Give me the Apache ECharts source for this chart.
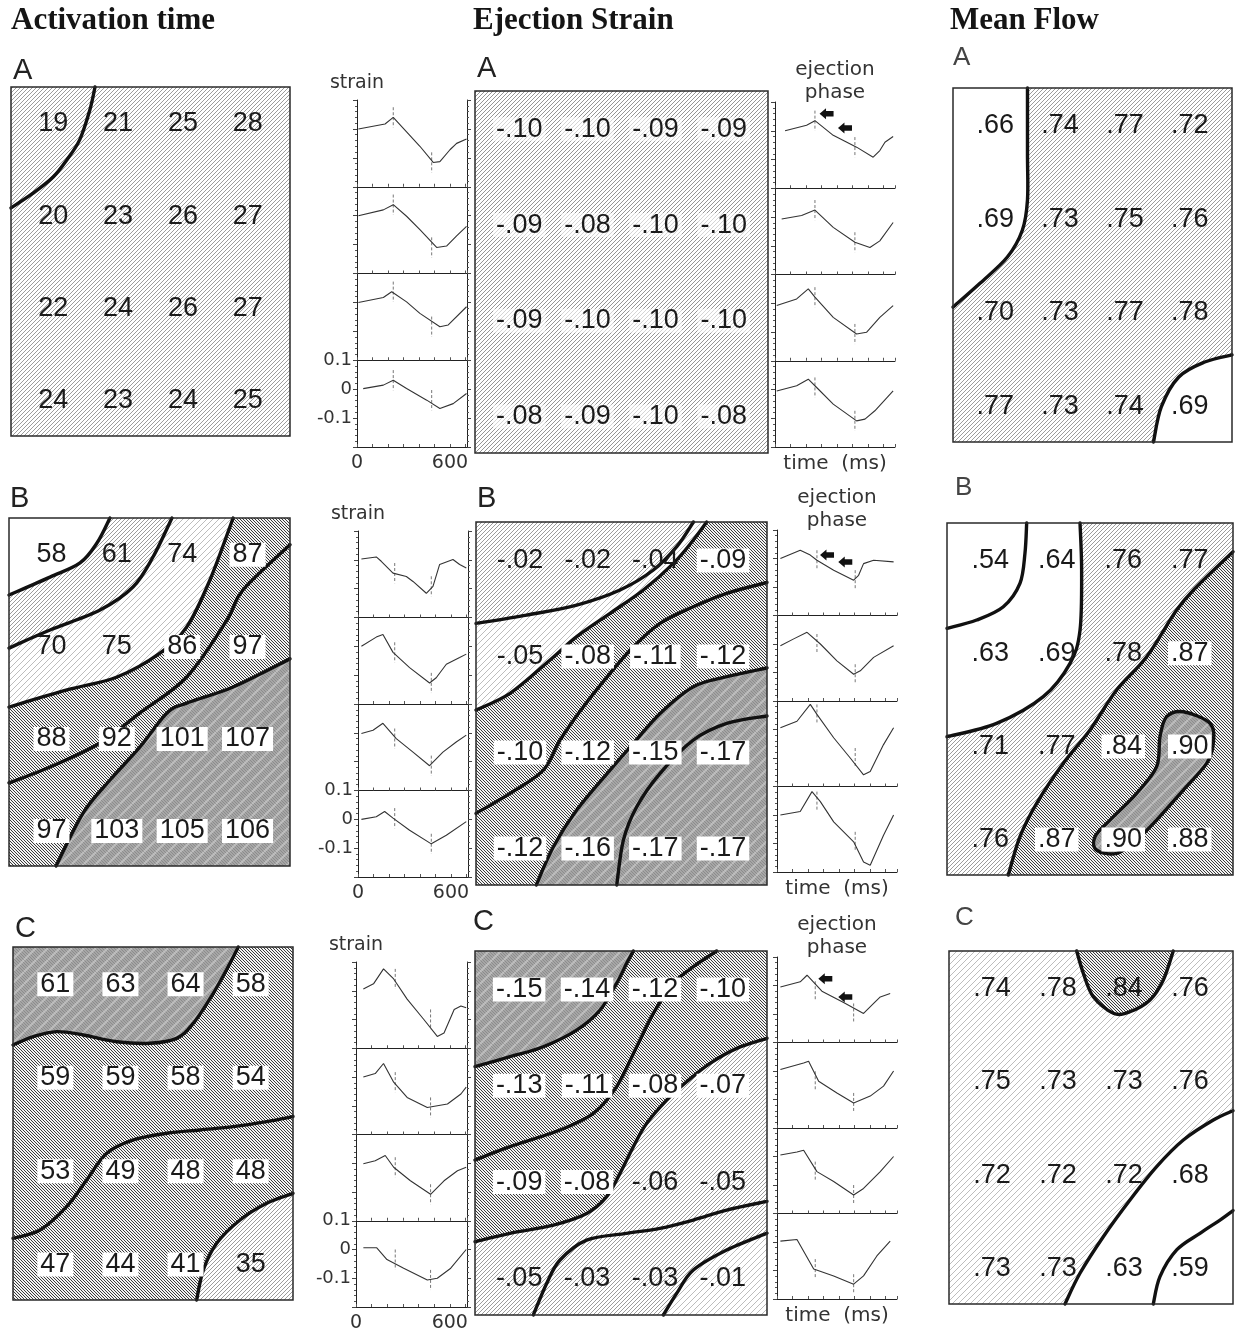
<!DOCTYPE html>
<html><head><meta charset="utf-8">
<script src="https://cdn.jsdelivr.net/npm/echarts@6/dist/echarts.min.js"></script>
<style>html,body{margin:0;padding:0;background:#fff}#c{width:1237px;height:1335px}</style>
</head><body><div id="c"></div>
<script>
// ---------------- DATA ----------------
const titles = ['Activation time', 'Ejection Strain', 'Mean Flow'];
const rowLetters = ['A', 'B', 'C'];

// 4x4 site values (row-major, top row first)
const actA = [[19,21,25,28],[20,23,26,27],[22,24,26,27],[24,23,24,25]];
const actB = [[58,61,74,87],[70,75,86,97],[88,92,101,107],[97,103,105,106]];
const actC = [[61,63,64,58],[59,59,58,54],[53,49,48,48],[47,44,41,35]];
const ejA = [[-0.10,-0.10,-0.09,-0.09],[-0.09,-0.08,-0.10,-0.10],[-0.09,-0.10,-0.10,-0.10],[-0.08,-0.09,-0.10,-0.08]];
const ejB = [[-0.02,-0.02,-0.04,-0.09],[-0.05,-0.08,-0.11,-0.12],[-0.10,-0.12,-0.15,-0.17],[-0.12,-0.16,-0.17,-0.17]];
const ejC = [[-0.15,-0.14,-0.12,-0.10],[-0.13,-0.11,-0.08,-0.07],[-0.09,-0.08,-0.06,-0.05],[-0.05,-0.03,-0.03,-0.01]];
const mfA = [[0.66,0.74,0.77,0.72],[0.69,0.73,0.75,0.76],[0.70,0.73,0.77,0.78],[0.77,0.73,0.74,0.69]];
const mfB = [[0.54,0.64,0.76,0.77],[0.63,0.69,0.78,0.87],[0.71,0.77,0.84,0.90],[0.76,0.87,0.90,0.88]];
const mfC = [[0.74,0.78,0.84,0.76],[0.75,0.73,0.73,0.76],[0.72,0.72,0.72,0.68],[0.73,0.73,0.63,0.59]];

// contour lines in site-grid units (column, row)
const actA_c1 = [[0.645,-0.4],[0.565,-0.15],[0.41,0.17],[0.21,0.39],[0,0.575],[-0.31,0.75],[-0.65,0.91]];
const mfA_c1 = [[0.498,-0.4],[0.498,0.3],[0.498,0.795],[0.42,1.116],[0.188,1.405],[-0.23,1.683],[-0.65,1.94]];
const mfA_c2 = [[2.44,3.38],[2.56,3.006],[2.83,2.686],[3.23,2.526],[3.65,2.45]];

const actB_c1 = [[-0.65,0.437],[-0.022,0.242],[0.437,0.088],[0.696,-0.128],[0.895,-0.4]];
const actB_c2 = [[-0.65,1.012],[-0.022,0.817],[0.743,0.6],[1.247,0.35],[1.553,0.024],[1.844,-0.4]];
const actB_c3 = [[-0.65,1.653],[0.237,1.468],[1.003,1.327],[1.66,1.067],[2.07,0.783],[2.425,0.273],[2.78,-0.4]];
const actB_c4 = [[-0.65,2.478],[-0.022,2.305],[0.743,2.044],[1.354,1.717],[2.07,1.327],[2.686,0.708],[2.93,0.382],[3.65,-0.11]];
const actB_c5 = [[0.07,3.38],[0.483,2.805],[0.895,2.446],[1.354,2.087],[1.767,1.717],[2.07,1.61],[2.78,1.436],[3.65,1.13]];

const ejB_c1 = [[-0.65,0.656],[0.099,0.569],[0.838,0.465],[1.478,0.308],[1.971,0.1],[2.316,-0.143],[2.562,-0.4]];
const ejB_c2 = [[-0.65,1.558],[-0.147,1.384],[0.444,1.037],[0.838,0.794],[1.331,0.551],[1.823,0.308],[2.267,0.031],[2.562,-0.212],[2.759,-0.4]];
const ejB_c3 = [[-0.65,2.634],[-0.147,2.426],[0.346,2.183],[0.592,1.87],[0.937,1.523],[1.331,1.176],[1.676,0.899],[2.07,0.655],[2.562,0.482],[3.055,0.343],[3.65,0.23]];
const ejB_c4 = [[0.24,3.38],[0.493,2.981],[0.838,2.599],[1.331,2.183],[1.676,1.905],[2.07,1.593],[2.562,1.315],[3.055,1.211],[3.65,1.12]];
const ejB_c5 = [[1.43,3.38],[1.528,2.912],[1.725,2.565],[2.07,2.217],[2.562,1.87],[3.055,1.697],[3.65,1.62]];

const mfB_c1 = [[0.548,-0.4],[0.522,-0.074],[0.447,0.248],[0.197,0.499],[-0.204,0.642],[-0.65,0.731]];
const mfB_c2 = [[1.35,-0.4],[1.374,0.105],[1.35,0.75],[1.2,1.107],[0.798,1.465],[0.096,1.752],[-0.65,1.895]];
const mfB_c3 = [[0.272,3.38],[0.447,2.969],[0.698,2.611],[1.099,2.181],[1.5,1.823],[1.9,1.394],[2.352,1.036],[2.803,0.535],[3.104,0.284],[3.65,-0.092]];
const mfB_c4 = [[2.903,1.627],[3.304,1.752],[3.354,1.967],[3.254,2.182],[2.903,2.468],[2.502,2.79],[2.201,3.004],[1.901,3.148],[1.6,3.112],[1.575,2.969],[1.8,2.79],[2.201,2.503],[2.502,2.217],[2.552,1.895],[2.652,1.68]];

const actC_c1 = [[-0.65,0.649],[-0.338,0.56],[0.021,0.506],[0.43,0.542],[0.942,0.614],[1.454,0.631],[1.863,0.578],[2.119,0.417],[2.426,0.096],[2.682,-0.225],[2.81,-0.4]];
const actC_c2 = [[-0.65,2.719],[-0.235,2.63],[0.174,2.38],[0.481,2.095],[0.789,1.809],[1.198,1.666],[1.71,1.595],[2.222,1.559],[2.734,1.524],[3.246,1.47],[3.65,1.416]];
const actC_c3 = [[2.17,3.38],[2.273,3.058],[2.478,2.773],[2.836,2.523],[3.246,2.344],[3.65,2.238]];

const ejC_c1 = [[-0.65,0.801],[-0.135,0.698],[0.356,0.594],[0.847,0.421],[1.191,0.213],[1.436,-0.064],[1.584,-0.272],[1.682,-0.4]];
const ejC_c2 = [[-0.65,1.771],[-0.135,1.632],[0.602,1.459],[1.093,1.286],[1.436,1.009],[1.731,0.594],[1.976,0.248],[2.271,-0.064],[2.565,-0.237],[2.909,-0.4]];
const ejC_c3 = [[-0.65,2.619],[-0.135,2.532],[0.504,2.446],[0.995,2.325],[1.289,2.151],[1.485,1.909],[1.682,1.632],[1.878,1.39],[2.173,1.148],[2.467,0.957],[2.811,0.767],[3.204,0.611],[3.65,0.507]];
const ejC_c4 = [[0.209,3.38],[0.405,3.052],[0.602,2.809],[0.994,2.602],[1.583,2.532],[2.074,2.48],[2.565,2.394],[3.056,2.29],[3.65,2.2]];
const ejC_c5 = [[2.124,3.38],[2.32,3.156],[2.565,2.913],[3.056,2.705],[3.65,2.53]];

const mfC_c1 = [[1.283,-0.4],[1.384,-0.161],[1.535,0.089],[1.838,0.267],[2.09,0.25],[2.393,0.125],[2.595,-0.089],[2.746,-0.4]];
const mfC_c2 = [[1.106,3.38],[1.333,3.051],[1.686,2.659],[2.09,2.266],[2.494,1.909],[2.898,1.624],[3.352,1.41],[3.65,1.31]];
const mfC_c3 = [[2.443,3.38],[2.544,3.087],[2.797,2.801],[3.15,2.623],[3.453,2.481],[3.65,2.38]];

// strain traces: [time ms, strain]
const trA1 = [
  [[9,0],[181,0.017],[234,0.04],[320,-0.01],[406,-0.06],[492,-0.116],[535,-0.113],[600,-0.072],[643,-0.05],[707,-0.035]],
  [[9,0],[170,0.02],[234,0.038],[320,-0.002],[406,-0.048],[514,-0.11],[578,-0.105],[643,-0.07],[707,-0.037]],
  [[9,0],[170,0.017],[224,0.037],[320,0.002],[406,-0.038],[535,-0.084],[589,-0.078],[707,-0.015]],
  [[40,0.002],[170,0.014],[234,0.031],[320,0.002],[450,-0.038],[535,-0.067],[621,-0.05],[707,-0.015]]
];
const trA2 = [
  [[65,0],[204,0.019],[258,0.035],[376,-0.016],[527,-0.057],[634,-0.092],[677,-0.069],[710,-0.04],[763,-0.02]],
  [[43,-0.007],[172,0.005],[258,0.024],[376,-0.036],[516,-0.088],[613,-0.106],[677,-0.083],[763,-0.019]],
  [[11,-0.008],[140,0.015],[215,0.05],[258,0.021],[376,-0.049],[527,-0.107],[591,-0.101],[677,-0.049],[763,-0.008]],
  [[11,-0.005],[140,0.013],[215,0.036],[269,0.007],[376,-0.051],[527,-0.109],[581,-0.103],[645,-0.074],[763,-0.005]]
];
const trB1 = [
  [[22,0.003],[118,0.01],[150,-0.005],[226,-0.046],[312,-0.058],[355,-0.075],[441,-0.116],[484,-0.092],[527,-0.016],[613,0.001],[656,-0.016],[699,-0.028]],
  [[22,0],[118,0.032],[161,0.041],[226,-0.021],[333,-0.074],[462,-0.127],[505,-0.109],[570,-0.062],[656,-0.039],[699,-0.027]],
  [[22,-0.002],[97,0.009],[161,0.033],[247,-0.02],[355,-0.067],[462,-0.114],[548,-0.067],[634,-0.032],[699,-0.008]],
  [[22,0],[118,0.009],[172,0.027],[226,0.004],[333,-0.038],[473,-0.085],[570,-0.055],[699,-0.008]]
];
const trB2 = [
  [[22,0],[150,0.029],[215,0.012],[258,-0.006],[366,-0.041],[495,-0.076],[527,-0.059],[559,-0.018],[624,-0.006],[753,-0.012]],
  [[22,-0.006],[108,0.018],[194,0.041],[280,0],[387,-0.059],[495,-0.106],[538,-0.094],[624,-0.047],[753,-0.006]],
  [[22,0.006],[129,0.029],[215,0.088],[258,0.053],[366,-0.029],[473,-0.1],[559,-0.159],[602,-0.147],[688,-0.053],[753,0.006]],
  [[22,0],[150,0.012],[226,0.082],[280,0.047],[366,-0.024],[495,-0.094],[559,-0.165],[602,-0.176],[688,-0.071],[753,0]]
];
const trC1 = [
  [[47,0.006],[112,0.024],[176,0.076],[241,0.041],[327,-0.029],[434,-0.1],[520,-0.159],[563,-0.147],[628,-0.065],[671,-0.053],[705,-0.059]],
  [[47,0],[123,0.012],[176,0.047],[241,-0.018],[327,-0.071],[456,-0.106],[585,-0.094],[671,-0.059],[705,-0.035]],
  [[47,-0.002],[123,0.009],[187,0.027],[241,-0.014],[348,-0.061],[477,-0.108],[563,-0.061],[649,-0.026],[705,-0.014]],
  [[47,0.006],[133,0.006],[198,-0.035],[305,-0.065],[456,-0.106],[520,-0.1],[606,-0.065],[705,0]]
];
const trC2 = [
  [[22,-0.005],[150,0.013],[194,0.036],[290,-0.02],[430,-0.06],[559,-0.098],[624,-0.063],[667,-0.04],[731,-0.028]],
  [[22,0.005],[172,0.028],[204,0.034],[269,-0.036],[387,-0.077],[495,-0.112],[602,-0.088],[688,-0.053],[753,0]],
  [[22,0.005],[129,0.016],[172,0.022],[258,-0.053],[366,-0.088],[495,-0.135],[559,-0.112],[667,-0.053],[753,0]],
  [[22,0.003],[129,0.009],[237,-0.095],[366,-0.119],[495,-0.148],[559,-0.119],[645,-0.049],[731,0.003]]
];
// timing markers (ms) and ejection-phase arrows [ms, strain]
const markA1 = [234, 482], markA2 = [258, 516];
const markB1 = [237, 473], markB2 = [258, 505];
const markC1 = [251, 477], markC2 = [247, 495];
const phaseA = [[333, 0.059], [452, 0.01]];
const phaseB = [[323, 0.012], [441, -0.012]];
const phaseC = [[312, 0.024], [441, -0.04]];
const xTickLabels = [0, 600];
const yTickLabels = [0.1, 0, -0.1];

// ---------------- PATTERNS ----------------
function hatch(size, color, lw, dir, bg) {
  const c = document.createElement('canvas'); c.width = c.height = size;
  const g = c.getContext('2d'); g.fillStyle = bg; g.fillRect(0, 0, size, size);
  g.strokeStyle = color; g.lineWidth = lw;
  for (const k of [-size, 0, size]) {
    g.beginPath();
    if (dir === '/') { g.moveTo(k, size); g.lineTo(k + size, 0); }
    else { g.moveTo(k, 0); g.lineTo(k + size, size); }
    g.stroke();
  }
  return { image: c, repeat: 'repeat' };
}
function grayPat() {
  const s = 12, c = document.createElement('canvas'); c.width = c.height = s;
  const g = c.getContext('2d'); g.fillStyle = '#a6a6a6'; g.fillRect(0, 0, s, s);
  g.strokeStyle = '#8c8c8c'; g.lineWidth = 1;
  for (let k = -s; k <= s; k += 3) { g.beginPath(); g.moveTo(k, 0); g.lineTo(k + s, s); g.stroke(); }
  g.strokeStyle = 'rgba(210,210,210,0.6)'; g.lineWidth = 2;
  for (const k of [-s, 0, s]) { g.beginPath(); g.moveTo(k, s); g.lineTo(k + s, 0); g.stroke(); }
  return { image: c, repeat: 'repeat' };
}
const PAT = {
  white: '#ffffff',
  light: hatch(4, '#9c9c9c', 1, '/', '#fff'),
  vlight: hatch(6, '#bdbdbd', 1, '/', '#fff'),
  medium: hatch(4, '#959595', 1, '/', '#fff'),
  dense: hatch(3, '#3a3a3a', 1, '\\', '#f2f2f2'),
  gray: grayPat()
};

// ---------------- BUILD ----------------
const X0 = -0.65, X1 = 3.65, Y0 = -0.4, Y1 = 3.38;
const CORNER = { TL: [X0, Y0], TR: [X1, Y0], BR: [X1, Y1], BL: [X0, Y1] };
const NUMFONT = '"Liberation Sans", Arial, sans-serif';
const SMALLFONT = '"DejaVu Sans", sans-serif';

function fmtVal(kind, v) {
  if (kind === 'int') return String(v);
  const n = String(Math.round(Math.abs(v) * 100)).padStart(2, '0');
  return kind === 'ej' ? '-.' + n : '.' + n;
}
function smoothPath(P, closed) {
  const n = P.length;
  const get = i => closed ? P[(i + n) % n] : P[Math.max(0, Math.min(n - 1, i))];
  let d = 'M' + P[0][0] + ',' + P[0][1];
  const segs = closed ? n : n - 1;
  for (let i = 0; i < segs; i++) {
    const p0 = get(i - 1), p1 = get(i), p2 = get(i + 1), p3 = get(i + 2);
    const c1 = [p1[0] + (p2[0] - p0[0]) / 6, p1[1] + (p2[1] - p0[1]) / 6];
    const c2 = [p2[0] - (p3[0] - p1[0]) / 6, p2[1] - (p3[1] - p1[1]) / 6];
    d += ' C' + c1[0] + ',' + c1[1] + ' ' + c2[0] + ',' + c2[1] + ' ' + p2[0] + ',' + p2[1];
  }
  return d;
}

const grids = [], xAxes = [], yAxes = [], series = [], graphics = [];

function addMap(m) {
  const g = grids.length;
  grids.push({ left: m.box[0], top: m.box[1], width: m.box[2], height: m.box[3], show: false, outerBoundsMode: 'none' });
  const xi = xAxes.length, yi = yAxes.length;
  xAxes.push({ gridIndex: g, type: 'value', min: X0, max: X1, show: false });
  yAxes.push({ gridIndex: g, type: 'value', min: Y0, max: Y1, inverse: true, show: false });
  const ops = [{ k: 'base' }];
  m.layers.forEach(L => { if (L[1]) ops.push({ k: 'fill', pts: L[0], fill: L[1], close: L[2] }); });
  m.layers.forEach(L => ops.push({ k: 'stroke', pts: L[0], closed: L[2] === 'closed' }));
  ops.push({ k: 'frame' });
  series.push({
    type: 'custom', xAxisIndex: xi, yAxisIndex: yi, silent: true, animation: false, z: 1,
    data: ops.map(() => [0, 0]),
    renderItem: (params, api) => {
      const op = ops[params.dataIndex];
      const tl = api.coord(CORNER.TL), br = api.coord(CORNER.BR);
      const rect = { x: tl[0], y: tl[1], width: br[0] - tl[0], height: br[1] - tl[1] };
      if (op.k === 'base') return { type: 'rect', shape: rect, style: { fill: PAT[m.base] } };
      if (op.k === 'frame') return { type: 'rect', shape: rect, style: { fill: 'none', stroke: '#2a2a2a', lineWidth: 1.5 } };
      const P = op.pts.map(p => api.coord(p));
      if (op.k === 'fill') {
        let d;
        if (op.close === 'closed') d = smoothPath(P, true) + ' Z';
        else d = smoothPath(P, false) + op.close.map(c => { const q = api.coord(CORNER[c]); return ' L' + q[0] + ',' + q[1]; }).join('') + ' Z';
        return { type: 'path', shape: { pathData: d }, style: { fill: PAT[op.fill], stroke: 'none' } };
      }
      return { type: 'path', shape: { pathData: smoothPath(P, op.closed) + (op.closed ? ' Z' : '') },
        style: { fill: 'none', stroke: '#111', lineWidth: 3.4, lineJoin: 'round', lineCap: 'round' } };
    }
  });
  series.push({
    type: 'scatter', xAxisIndex: xi, yAxisIndex: yi, silent: true, animation: false, z: 5,
    symbolSize: 1, itemStyle: { color: 'rgba(0,0,0,0)', opacity: 1 },
    data: m.vals.flatMap((row, r) => row.map((v, c) => ({
      value: [c, r], name: fmtVal(m.fmt, v),
      label: { backgroundColor: (m.boxed && m.boxed(v)) ? '#ffffff' : (m.halo ? 'rgba(255,255,255,0.6)' : 'transparent') }
    }))),
    label: { show: true, position: 'inside', formatter: '{b}', fontFamily: NUMFONT, fontSize: 27,
      color: '#1a1a1a', textBorderWidth: 0, padding: [1, 3, 0, 3], lineHeight: 23 }
  });
}

function addPanel(p) {
  const t1 = p.type === 1;
  for (let j = 0; j < 4; j++) {
    const g = grids.length, bottom = j === 3;
    grids.push({ left: p.left, top: p.top + j * p.h, width: p.w, height: p.h, show: false, outerBoundsMode: 'none' });
    const xi = xAxes.length;
    xAxes.push({
      gridIndex: g, type: 'value', min: 0, max: p.tMax, interval: 100,
      axisLine: { show: true, onZero: false, lineStyle: { color: '#222', width: 1 } },
      axisTick: { show: true, inside: true, length: 3, lineStyle: { color: '#555' } },
      axisLabel: { show: bottom && t1, margin: 7, fontFamily: SMALLFONT, fontSize: 19, color: '#333',
        showMaxLabel: false, formatter: v => xTickLabels.includes(v) ? String(v) : '' },
      splitLine: { show: false },
      name: (bottom && !t1) ? 'time  (ms)' : '', nameLocation: 'middle', nameGap: 7,
      nameTextStyle: { fontFamily: SMALLFONT, fontSize: 20, color: '#333', verticalAlign: 'top' }
    });
    const yi = yAxes.length;
    const yBase = {
      gridIndex: g, type: 'value', min: -0.2, max: 0.1, interval: 0.1,
      axisLine: { show: true, onZero: false, lineStyle: { color: '#222', width: 1 } },
      axisTick: { show: true, length: 4, lineStyle: { color: '#444' } },
      minorTick: { show: true, splitNumber: 5, length: 2, lineStyle: { color: '#555' } },
      splitLine: { show: false }
    };
    yAxes.push(Object.assign({}, yBase, {
      position: 'left',
      axisLabel: { show: bottom && t1, margin: 5, fontFamily: SMALLFONT, fontSize: 18, color: '#333',
        formatter: v => { const r = Math.round(v * 10) / 10; if (!yTickLabels.includes(r)) return ''; return r === 0 ? '0' : r.toFixed(1); } },
      name: (j === 0 && t1) ? 'strain' : '', nameLocation: 'end', nameGap: 7, nameMoveOverlap: false,
      nameTextStyle: { fontFamily: SMALLFONT, fontSize: 19, color: '#333', align: 'center' }
    }));
    if (t1) yAxes.push(Object.assign({}, yBase, { position: 'right', axisLabel: { show: false } }));
    const tr = p.traces[j];
    series.push({ type: 'line', xAxisIndex: xi, yAxisIndex: yi, data: tr, symbol: 'none', showSymbol: false,
      lineStyle: { color: '#333', width: 1.1 }, silent: true, animation: false, z: 3 });
    const md = p.marks.map(t => { let b = tr[0]; tr.forEach(q => { if (Math.abs(q[0] - t) < Math.abs(b[0] - t)) b = q; }); return [t, b[1]]; });
    series.push({ type: 'custom', xAxisIndex: xi, yAxisIndex: yi, data: md, silent: true, animation: false, z: 2,
      renderItem: (params, api) => {
        const a = api.coord([api.value(0), api.value(1) + 0.035]), b = api.coord([api.value(0), api.value(1) - 0.035]);
        return { type: 'line', shape: { x1: a[0], y1: a[1], x2: b[0], y2: b[1] }, style: { stroke: '#777', lineWidth: 1, lineDash: [3, 2] } };
      } });
    if (j === 0 && p.phase) {
      series.push({ type: 'scatter', xAxisIndex: xi, yAxisIndex: yi, data: p.phase, silent: true, animation: false, z: 4,
        symbol: 'path://M0,5L6,0L6,2.5L13,2.5L13,7.5L6,7.5L6,10Z', symbolSize: [14, 11], itemStyle: { color: '#111', opacity: 1 } });
    }
  }
  if (!t1) {
    graphics.push({ type: 'text', x: p.left + p.w / 2, y: p.top - 44,
      style: { text: 'ejection\nphase', font: '20px ' + SMALLFONT, fill: '#333', align: 'center', verticalAlign: 'top', textAlign: 'center', textVerticalAlign: 'top', lineHeight: 23 } });
  }
}

const maps = [
  { box: [11, 87, 279, 349], vals: actA, fmt: 'int', base: 'light', layers: [[actA_c1, null, null]] },
  { box: [475, 91, 293, 362], vals: ejA, fmt: 'ej', base: 'medium', layers: [], halo: true },
  { box: [953, 88, 279, 354], vals: mfA, fmt: 'mf', base: 'light', layers: [[mfA_c1, 'white', ['TL']], [mfA_c2, 'white', ['BR']]] },
  { box: [9, 518, 281, 348], vals: actB, fmt: 'int', base: 'white', boxed: v => v >= 86,
    layers: [[actB_c1, 'light', ['TR', 'BR', 'BL']], [actB_c2, 'vlight', ['TR', 'BR', 'BL']], [actB_c3, 'dense', ['TR', 'BR', 'BL']], [actB_c4, 'dense', ['BR', 'BL']], [actB_c5, 'gray', ['BR']]] },
  { box: [476, 522, 291, 363], vals: ejB, fmt: 'ej', base: 'light', boxed: v => v <= -0.08,
    layers: [[ejB_c1, 'vlight', ['TR', 'BR', 'BL']], [ejB_c2, 'dense', ['TR', 'BR', 'BL']], [ejB_c3, 'dense', ['BR', 'BL']], [ejB_c4, 'gray', ['BR']], [ejB_c5, 'gray', ['BR']]] },
  { box: [947, 523, 286, 352], vals: mfB, fmt: 'mf', base: 'light', boxed: v => v >= 0.84,
    layers: [[mfB_c1, 'white', ['TL']], [mfB_c2, 'white', ['TL']], [mfB_c3, 'dense', ['BR']], [mfB_c4, 'gray', 'closed']] },
  { box: [13, 947, 280, 353], vals: actC, fmt: 'int', base: 'dense', boxed: v => v >= 40,
    layers: [[actC_c1, 'gray', ['TL']], [actC_c2, 'dense', ['BR', 'BL']], [actC_c3, 'light', ['BR']]] },
  { box: [475, 951, 292, 364], vals: ejC, fmt: 'ej', base: 'dense', boxed: v => v <= -0.07,
    layers: [[ejC_c1, 'gray', ['TL']], [ejC_c2, null, null], [ejC_c3, 'light', ['BR', 'BL']], [ejC_c4, null, null], [ejC_c5, 'vlight', ['BR']]] },
  { box: [949, 951, 284, 353], vals: mfC, fmt: 'mf', base: 'vlight',
    layers: [[mfC_c1, 'dense', []], [mfC_c2, 'white', ['BR']], [mfC_c3, 'white', ['BR']]] }
];
maps.forEach(addMap);

const panels = [
  { left: 357, top: 100, w: 110, h: 86.75, tMax: 710, type: 1, traces: trA1, marks: markA1 },
  { left: 775, top: 102, w: 120, h: 86.25, tMax: 775, type: 2, traces: trA2, marks: markA2, phase: phaseA },
  { left: 358, top: 531, w: 110, h: 86.5, tMax: 710, type: 1, traces: trB1, marks: markB1 },
  { left: 777, top: 530, w: 120, h: 85.5, tMax: 775, type: 2, traces: trB2, marks: markB2, phase: phaseB },
  { left: 356, top: 962, w: 111, h: 86.25, tMax: 710, type: 1, traces: trC1, marks: markC1 },
  { left: 777, top: 957, w: 120, h: 85.5, tMax: 775, type: 2, traces: trC2, marks: markC2, phase: phaseC }
];
panels.forEach(addPanel);

// titles and panel letters
[[11, titles[0]], [473, titles[1]], [950, titles[2]]].forEach(([x, t]) => graphics.push({
  type: 'text', x: x, y: 5, style: { text: t, font: 'bold 31px "Liberation Serif", "Times New Roman", serif', fill: '#151515', align: 'left', verticalAlign: 'top', textAlign: 'left', textVerticalAlign: 'top' } }));
const letterPos = [
  [[13, 56], [477, 54], [953, 45]],
  [[10, 484], [477, 484], [955, 475]],
  [[15, 914], [473, 907], [955, 905]]
];
letterPos.forEach((row, r) => row.forEach(([x, y], c) => graphics.push({
  type: 'text', x: x, y: y, style: { text: rowLetters[r], font: (c === 2 ? '26px ' : '29px ') + NUMFONT, fill: c === 2 ? '#444' : '#222', align: 'left', verticalAlign: 'top', textAlign: 'left', textVerticalAlign: 'top' } })));

const chart = echarts.init(document.getElementById('c'), null, { renderer: 'canvas', width: 1237, height: 1335 });
chart.setOption({
  backgroundColor: '#ffffff', animation: false,
  grid: grids, xAxis: xAxes, yAxis: yAxes, series: series, graphic: graphics
});
</script></body></html>
